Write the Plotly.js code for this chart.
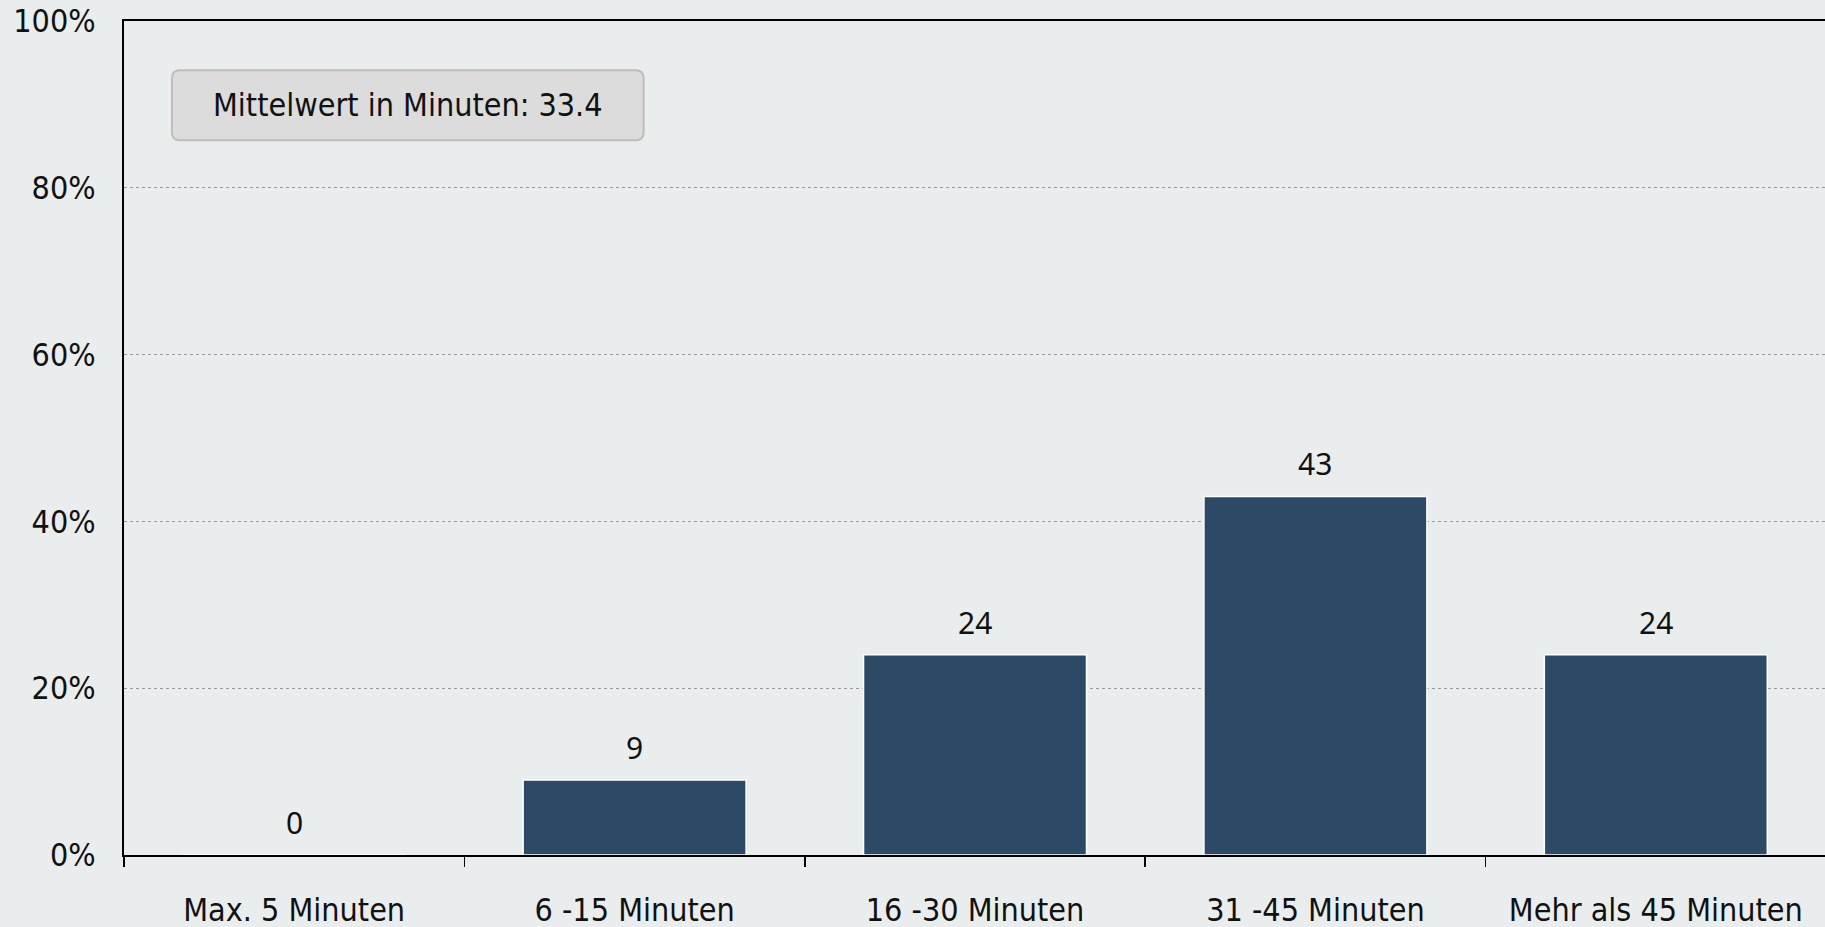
<!DOCTYPE html>
<html>
<head>
<meta charset="utf-8">
<script src="https://cdn.plot.ly/plotly-3.0.1.min.js"></script>
<style>html,body{margin:0;padding:0;background:#E9EDEE;}#chart{width:1825px;height:927px;}</style>
</head>
<body>
<div id="chart"></div>
<script>
const categories = ["Max. 5 Minuten", "6 -15 Minuten", "16 -30 Minuten", "31 -45 Minuten", "Mehr als 45 Minuten"];
const values = [0, 9, 24, 43, 24];
const yTickVals = [0, 20, 40, 60, 80, 100];
const yTickText = ["0%", "20%", "40%", "60%", "80%", "100%"];
const meanLabel = "Mittelwert in Minuten: 33.4";

const tickFont = {family: "DejaVu Sans Condensed, DejaVu Sans", size: 32, color: "#111"};
const labelFont = {family: "Noto Sans, Open Sans", size: 30, color: "#111"};

const trace = {
  type: "bar",
  x: categories,
  y: values,
  width: 0.655,
  marker: {color: "#2C4A66", line: {color: "#FFFFFF", width: 1.5}},
  hoverinfo: "skip"
};

const valueAnnotations = categories.map((c, i) => ({
  x: c, y: values[i], xref: "x", yref: "y",
  text: String(values[i]), showarrow: false,
  yanchor: "bottom", yshift: 10, font: labelFont
}));

// rounded box for mean label (paper coords)
const bx0 = 0.0282, bx1 = 0.3055, by0 = 0.857, by1 = 0.941, rx = 0.0047, ry = 0.0096;
const boxPath = `M ${bx0+rx} ${by0} L ${bx1-rx} ${by0} Q ${bx1} ${by0} ${bx1} ${by0+ry} L ${bx1} ${by1-ry} Q ${bx1} ${by1} ${bx1-rx} ${by1} L ${bx0+rx} ${by1} Q ${bx0} ${by1} ${bx0} ${by1-ry} L ${bx0} ${by0+ry} Q ${bx0} ${by0} ${bx0+rx} ${by0} Z`;

const layout = {
  width: 1825, height: 927,
  margin: {l: 124, r: 0, t: 21, b: 72, pad: 0},
  paper_bgcolor: "#E9EDEE",
  plot_bgcolor: "#E9EDEE",
  showlegend: false,
  xaxis: {
    type: "category",
    range: [-0.5, 4.497],
    showline: true, linecolor: "#000", linewidth: 2, mirror: true,
    ticks: "outside", tickson: "boundaries", ticklen: 10, tickcolor: "#000", tickwidth: 1.5,
    ticklabelstandoff: 26,
    tickfont: tickFont,
    showgrid: false, zeroline: false, fixedrange: true
  },
  yaxis: {
    range: [0, 100],
    tickvals: yTickVals, ticktext: yTickText,
    showline: true, linecolor: "#000", linewidth: 2,
    ticks: "", ticklabelstandoff: 20,
    tickfont: tickFont,
    showgrid: true, gridcolor: "#9A9A9A", gridwidth: 1, griddash: "dot",
    zeroline: false, fixedrange: true
  },
  shapes: [{
    type: "path", xref: "paper", yref: "paper", path: boxPath,
    fillcolor: "#DCDCDC", line: {color: "#BDBDBD", width: 2}, layer: "above"
  }],
  annotations: valueAnnotations.concat([{
    xref: "paper", yref: "paper", x: (bx0 + bx1) / 2, y: (by0 + by1) / 2,
    xanchor: "center", yanchor: "middle", text: meanLabel, showarrow: false,
    font: tickFont
  }])
};

Plotly.newPlot("chart", [trace], layout, {displayModeBar: false, staticPlot: true});
</script>
</body>
</html>
